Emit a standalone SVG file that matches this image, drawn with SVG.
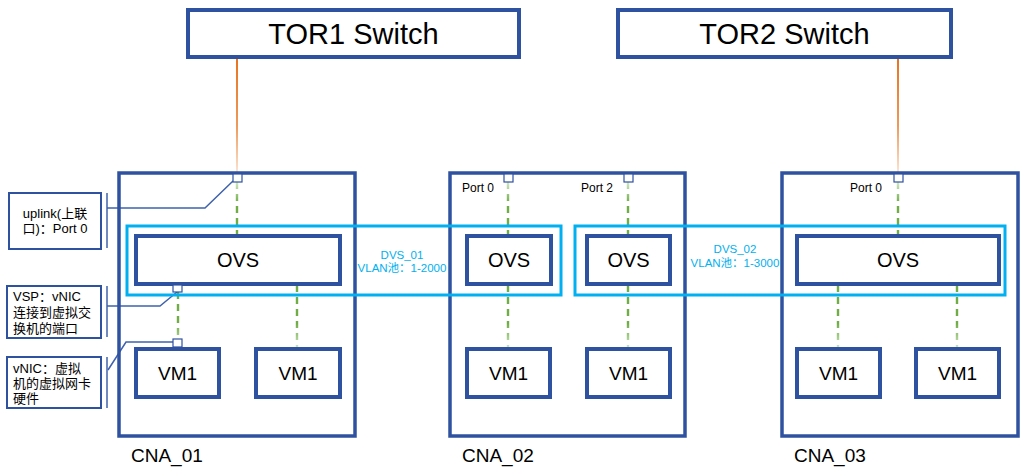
<svg xmlns="http://www.w3.org/2000/svg" width="1031" height="475" viewBox="0 0 1031 475">
<style>
.box{fill:#fff;stroke:#2F52A0;stroke-width:4}
.cna{fill:none;stroke:#2F52A0;stroke-width:3.5}
.dvs{fill:none;stroke:#00B0F0;stroke-width:3}
.port{fill:#fff;stroke:#2F52A0;stroke-width:1.2}
.call{fill:#fff;stroke:#2F52A0;stroke-width:2}
.cl{fill:none;stroke:#3F62AD;stroke-width:1.5}
.t{font-family:"Liberation Sans","Noto Sans CJK SC",sans-serif;fill:#000}
.big{font-size:29px}
.mid{font-size:20px}
.lab{font-size:19px}
.sm{font-size:12px}
.cs{font-size:13px}
.dv{font-family:"Liberation Sans","Noto Sans CJK SC",sans-serif;font-size:11.5px;fill:#00B0F0}
</style>
<defs>
<linearGradient id="og" gradientUnits="userSpaceOnUse" x1="0" y1="58" x2="0" y2="172">
<stop offset="0" stop-color="#E8731F"/><stop offset="0.6" stop-color="#EE9A5C"/><stop offset="1" stop-color="#FBE3D1"/>
</linearGradient>
<linearGradient id="gTop" gradientUnits="userSpaceOnUse" x1="0" y1="182" x2="0" y2="235">
<stop offset="0" stop-color="#D3E8C4"/><stop offset="0.4" stop-color="#70AD47"/><stop offset="1" stop-color="#70AD47"/>
</linearGradient>
<linearGradient id="gBot" gradientUnits="userSpaceOnUse" x1="0" y1="285" x2="0" y2="349">
<stop offset="0" stop-color="#70AD47"/><stop offset="0.6" stop-color="#70AD47"/><stop offset="1" stop-color="#D3E8C4"/>
</linearGradient>
</defs>

<g id="connectors">
<line x1="237" y1="58" x2="237" y2="172" stroke="url(#og)" stroke-width="2"/>
<line x1="898" y1="58" x2="898" y2="172" stroke="url(#og)" stroke-width="2"/>
<g stroke-width="2.4" stroke-dasharray="7,5" fill="none">
<line x1="237" y1="182" x2="237" y2="235" stroke="url(#gTop)"/>
<line x1="508" y1="182" x2="508" y2="235" stroke="url(#gTop)"/>
<line x1="628" y1="182" x2="628" y2="235" stroke="url(#gTop)"/>
<line x1="898" y1="182" x2="898" y2="235" stroke="url(#gTop)"/>
<line x1="178" y1="292" x2="178" y2="340" stroke="url(#gBot)"/>
<line x1="297" y1="285" x2="297" y2="349" stroke="url(#gBot)"/>
<line x1="508" y1="285" x2="508" y2="349" stroke="url(#gBot)"/>
<line x1="628" y1="285" x2="628" y2="349" stroke="url(#gBot)"/>
<line x1="838" y1="285" x2="838" y2="349" stroke="url(#gBot)"/>
<line x1="957" y1="285" x2="957" y2="349" stroke="url(#gBot)"/>
</g>
<polyline class="cl" points="107,208 205,208 233,181"/>
<polyline class="cl" points="107,306 160,306 177,292"/>
<polyline class="cl" points="108,370 126,342 173,342"/>
</g>

<g id="tor1"><rect class="box" x="188" y="10" width="331" height="47"/><text class="t big" x="353.5" y="44" text-anchor="middle">TOR1 Switch</text></g>
<g id="tor2"><rect class="box" x="618" y="10" width="333" height="47"/><text class="t big" x="784.5" y="44" text-anchor="middle">TOR2 Switch</text></g>

<g id="cna01"><rect class="cna" x="119" y="173" width="236" height="263"/><text class="t lab" x="131" y="462">CNA_01</text></g>
<g id="cna02"><rect class="cna" x="450" y="173" width="235" height="263"/><text class="t lab" x="462" y="462">CNA_02</text></g>
<g id="cna03"><rect class="cna" x="782" y="173" width="236" height="263"/><text class="t lab" x="794" y="462">CNA_03</text></g>

<g id="dvs01"><rect class="dvs" x="127" y="226" width="434" height="69"/>
<text class="dv" x="402" y="259" text-anchor="middle">DVS_01</text><text class="dv" x="402" y="272" text-anchor="middle">VLAN池：1-2000</text></g>
<g id="dvs02"><rect class="dvs" x="575" y="226" width="430" height="69"/>
<text class="dv" x="735" y="253" text-anchor="middle">DVS_02</text><text class="dv" x="735" y="267" text-anchor="middle">VLAN池：1-3000</text></g>

<g id="ovs1"><rect class="box" x="136" y="236" width="204" height="48"/><text class="t mid" x="238" y="267" text-anchor="middle">OVS</text></g>
<g id="ovs2"><rect class="box" x="467" y="236" width="84" height="48"/><text class="t mid" x="509" y="267" text-anchor="middle">OVS</text></g>
<g id="ovs3"><rect class="box" x="587" y="236" width="83" height="48"/><text class="t mid" x="628.5" y="267" text-anchor="middle">OVS</text></g>
<g id="ovs4"><rect class="box" x="797" y="236" width="202" height="48"/><text class="t mid" x="898" y="267" text-anchor="middle">OVS</text></g>

<g id="vm1a"><rect class="box" x="136" y="349" width="83" height="48"/><text class="t lab" x="177.5" y="380" text-anchor="middle">VM1</text></g>
<g id="vm1b"><rect class="box" x="256" y="349" width="84" height="48"/><text class="t lab" x="298" y="380" text-anchor="middle">VM1</text></g>
<g id="vm2a"><rect class="box" x="467" y="349" width="83" height="48"/><text class="t lab" x="508.5" y="380" text-anchor="middle">VM1</text></g>
<g id="vm2b"><rect class="box" x="587" y="349" width="83" height="48"/><text class="t lab" x="628.5" y="380" text-anchor="middle">VM1</text></g>
<g id="vm3a"><rect class="box" x="797" y="349" width="83" height="48"/><text class="t lab" x="838.5" y="380" text-anchor="middle">VM1</text></g>
<g id="vm3b"><rect class="box" x="916" y="349" width="83" height="48"/><text class="t lab" x="957.5" y="380" text-anchor="middle">VM1</text></g>

<g id="ports">
<rect class="port" x="233" y="174" width="9" height="8"/>
<rect class="port" x="504" y="174" width="9" height="8"/>
<rect class="port" x="624" y="174" width="9" height="8"/>
<rect class="port" x="894" y="174" width="9" height="8"/>
<rect class="port" x="173" y="285" width="9" height="7"/>
<rect class="port" x="173" y="339" width="9" height="8"/>
<text class="t sm" x="462" y="192">Port 0</text>
<text class="t sm" x="581" y="192">Port 2</text>
<text class="t sm" x="850" y="192">Port 0</text>
</g>

<g id="callout-uplink"><rect class="call" x="9" y="193" width="92" height="56"/>
<line class="cl" x1="107" y1="193" x2="107" y2="248"/>
<text class="t cs" x="55" y="218" text-anchor="middle">uplink(上联</text><text class="t cs" x="55" y="233" text-anchor="middle">口)：Port 0</text></g>
<g id="callout-vsp"><rect class="call" x="7" y="286" width="94" height="52"/>
<line class="cl" x1="107" y1="286" x2="107" y2="337"/>
<text class="t cs" x="13" y="301">VSP：vNIC</text><text class="t cs" x="13" y="317">连接到虚拟交</text><text class="t cs" x="13" y="333">换机的端口</text></g>
<g id="callout-vnic"><rect class="call" x="7" y="357" width="94" height="51"/>
<line class="cl" x1="107" y1="357" x2="107" y2="408"/>
<text class="t cs" x="13" y="373">vNIC：虚拟</text><text class="t cs" x="13" y="388">机的虚拟网卡</text><text class="t cs" x="13" y="403">硬件</text></g>
</svg>
